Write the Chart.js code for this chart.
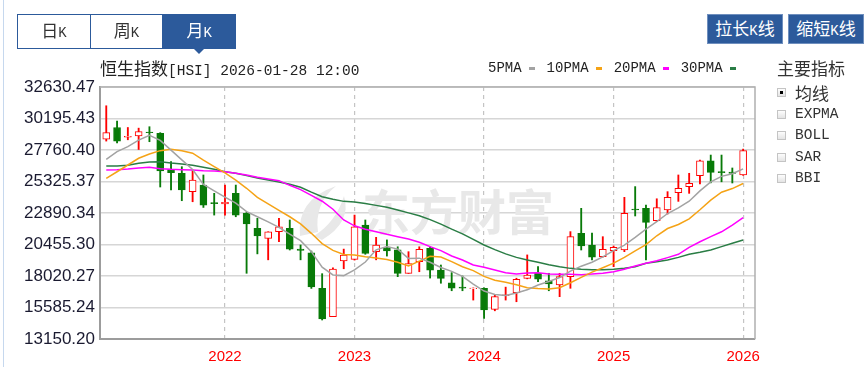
<!DOCTYPE html>
<html>
<head>
<meta charset="utf-8">
<script src="https://cdn.jsdelivr.net/npm/chart.js@4.4.1/dist/chart.umd.min.js"></script>
<style>
  html, body { margin: 0; padding: 0; background: #fff; }
  body { width: 865px; height: 367px; position: relative; overflow: hidden;
         font-family: "Liberation Mono", "Noto Sans CJK SC", monospace; color: #222; }
  #myChart { position: absolute; left: 0; top: 0; }
  .cn { font-family: "Noto Sans CJK SC", sans-serif; font-size: 17px; }
  .edge { position: absolute; left: 3px; top: 0; width: 1px; height: 367px; background: #c6d8ee; }
  .tabs { position: absolute; left: 17px; top: 14px; width: 219px; height: 35px; box-sizing: border-box;
          border: 1px solid #2c5a9b; display: flex; }
  .tab { flex: 1; display: flex; align-items: center; justify-content: center;
         border-right: 1px solid #2c5a9b; color: #333; }
  .tab:last-child { border-right: none; background: #2c5a9b; color: #fff; }
  .lbl { font-size: 14px; line-height: 20px; white-space: nowrap; }
  .tri { position: absolute; left: 193px; top: 48px; width: 0; height: 0;
         border-left: 6px solid transparent; border-right: 6px solid transparent; border-top: 6px solid #2c5a9b; }
  .btn { position: absolute; top: 14px; width: 76px; height: 30px; box-sizing: border-box;
         background: #2c5a9b; border: 1px solid #6f8fbe; color: #fff;
         display: flex; align-items: center; justify-content: center; }
  .title { position: absolute; left: 100px; top: 58px; height: 20px; font-size: 14.5px; line-height: 20px; white-space: nowrap; }
  .legend { position: absolute; left: 488px; top: 59px; height: 18px; font-size: 14px; line-height: 18px;
            display: flex; align-items: center; white-space: nowrap; }
  .legend .mk { display: inline-block; width: 6px; height: 3px; margin: 0 12px 0 7px; }
  .panel { position: absolute; left: 777px; top: 58px; }
  .panel .hd { position: absolute; left: 0; top: 0; white-space: nowrap; color: #333; line-height: 20px; }
  .row { position: absolute; left: 0; height: 20px; display: flex; align-items: center; white-space: nowrap;
         font-size: 14.5px; color: #333; }
  .box { width: 9px; height: 9px; box-sizing: border-box; border: 1px solid #c4c4c4;
         background: linear-gradient(#fdfdfd, #e4e4e4); margin-right: 9px; position: relative; }
  .box.on::after { content: ""; position: absolute; left: 2px; top: 2px; width: 3px; height: 3px; background: #000; }
</style>
</head>
<body>
<canvas id="myChart" width="865" height="367"></canvas>
<div class="edge"></div>
<div class="tabs">
  <div class="tab"><span class="lbl"><span class="cn">日</span>K</span></div>
  <div class="tab"><span class="lbl"><span class="cn">周</span>K</span></div>
  <div class="tab"><span class="lbl"><span class="cn">月</span>K</span></div>
</div>
<div class="tri"></div>
<div class="btn" style="left:707px"><span class="lbl"><span class="cn">拉长</span>K<span class="cn">线</span></span></div>
<div class="btn" style="left:788px"><span class="lbl"><span class="cn">缩短</span>K<span class="cn">线</span></span></div>
<div class="title"><span class="cn">恒生指数</span>[HSI] 2026-01-28 12:00</div>
<div class="legend" id="legend"></div>
<div class="panel">
  <div class="hd cn">主要指标</div>
  <div class="row" style="top:24px"><span class="box on"></span><span class="cn">均线</span></div>
  <div class="row" style="top:46px"><span class="box"></span>EXPMA</div>
  <div class="row" style="top:67px"><span class="box"></span>BOLL</div>
  <div class="row" style="top:89px"><span class="box"></span>SAR</div>
  <div class="row" style="top:110px"><span class="box"></span>BBI</div>
</div>
<script>
// monthly candles, Feb 2021 .. Jan 2026
var months = [
  '2021-02','2021-03','2021-04','2021-05','2021-06','2021-07','2021-08','2021-09','2021-10','2021-11','2021-12',
  '2022-01','2022-02','2022-03','2022-04','2022-05','2022-06','2022-07','2022-08','2022-09','2022-10','2022-11','2022-12',
  '2023-01','2023-02','2023-03','2023-04','2023-05','2023-06','2023-07','2023-08','2023-09','2023-10','2023-11','2023-12',
  '2024-01','2024-02','2024-03','2024-04','2024-05','2024-06','2024-07','2024-08','2024-09','2024-10','2024-11','2024-12',
  '2025-01','2025-02','2025-03','2025-04','2025-05','2025-06','2025-07','2025-08','2025-09','2025-10','2025-11','2025-12',
  '2026-01'
];
var open  = [28600,29500,28750,28850,29150,29050,26250,25960,24540,25050,23700,
             23600,24410,22870,21700,20930,21440,21700,20100,19820,17070,14870,19180,
             19300,21960,19900,20220,20040,18220,19130,20150,18480,17500,17160,17040,
             17070,15440,16500,16740,17840,18230,17650,17330,17970,21320,20420,19520,
             19980,20030,23200,23250,22290,23120,24460,24930,25770,26930,26100,26050,
             25830];
var high  = [31180,30000,29500,29450,29560,29100,26860,26470,26220,25830,24410,
             25050,25050,22950,22480,21440,22480,22350,20420,19950,18200,18650,20100,
             22730,22350,21010,20810,20280,19900,20280,20280,18870,18280,18020,17100,
             17100,16550,17160,17850,19650,18740,18230,18230,21450,23250,21330,21060,
             20340,24100,24930,23500,23990,24540,25830,25960,26980,27370,27370,26370,
             27830];
var low   = [28450,28300,28550,27800,28400,24900,24670,23840,23760,23320,22730,
             22730,22600,18230,19730,19270,20670,20030,19270,17060,14620,14870,18580,
             19250,19700,19270,19560,17970,18220,18350,17860,17460,16880,16880,16160,
             14750,15330,16160,16030,17800,17590,16880,16420,17070,20030,19260,19480,
             18740,19900,22660,19260,22220,22810,23790,24410,25130,25220,25300,25210,
             25800];
var close = [29100,28450,28820,29180,29100,26150,26000,24670,25440,23500,23620,
             23720,22730,22040,21110,21440,21830,20100,20000,17170,14700,18550,19640,
             21830,19770,20420,19950,18220,18990,20090,18480,17840,17070,17070,17080,
             15390,16420,16560,17770,18100,17770,17400,17970,21060,20340,19480,20090,
             20240,22870,23120,22170,23300,24100,24800,25190,26930,26030,26000,25950,
             27710];

// moving averages
var ma5  = [27040,27630,28020,28530,28900,28500,27750,27000,26250,25100,24600,
            24120,23650,23000,22600,22210,21780,21250,20750,19900,18700,18100,18050,
            18500,19100,20040,20300,20100,19380,19400,19080,18680,18380,17990,17400,
            16860,16590,16520,16710,16950,17320,17600,17900,18400,18780,19080,19500,
            19980,20400,21000,21650,22230,22850,23280,23800,24600,25300,25720,25930,
            26300];
var ma10 = [25570,26080,26600,27120,27450,27710,27810,27710,27510,26980,26480,
            25990,25430,24800,24100,23600,23100,22600,22050,21320,20520,20000,19680,
            19640,19510,19420,19300,19080,18800,19170,19550,19490,19130,18740,18440,
            17990,17690,17540,17350,17120,17060,17020,17110,17500,17920,18320,18660,
            19010,19460,19970,20450,21130,21690,22000,22440,23140,23890,24500,24780,
            25170];
var ma20 = [26220,26240,26290,26370,26420,26320,26270,26240,26220,26160,26140,
            26080,25960,25830,25650,25520,25390,25030,24700,24250,23800,23180,22350,
            21900,21630,21440,21240,21060,20880,20630,20290,19980,19570,19260,18870,
            18690,18480,18280,18170,18260,18280,18170,18150,18150,18120,18170,18230,
            18350,18540,18790,19000,19200,19440,19700,20240,20670,21060,21440,21960,
            22530];
var ma30 = [26520,26520,26580,26730,26830,26860,26760,26680,26580,26420,26270,
            26080,25960,25780,25600,25440,25290,25110,24880,24500,24150,23950,23790,
            23740,23620,23480,23330,23120,22900,22680,22380,22030,21640,21280,20850,
            20420,20060,19730,19460,19260,19080,18890,18740,18610,18540,18510,18510,
            18540,18620,18740,19000,19130,19260,19460,19700,19850,20030,20290,20550,
            20810];

var yTicks = [13150.20, 15585.24, 18020.27, 20455.30, 22890.34, 25325.37, 27760.40, 30195.43, 32630.47];

var maSeries = [
  { name: '5PMA',  values: ma5,  color: '#a3a3a3' },
  { name: '10PMA', values: ma10, color: '#f5a316' },
  { name: '20PMA', values: ma20, color: '#ff00ff' },
  { name: '30PMA', values: ma30, color: '#2a7d45' }
];

var RED = '#ff0000';
var GREEN = '#087a08';

document.addEventListener('DOMContentLoaded', function () {
    var legend = document.getElementById('legend');
    maSeries.forEach(function (s) {
        var t = document.createElement('span');
        t.textContent = s.name;
        var m = document.createElement('span');
        m.className = 'mk';
        m.style.background = s.color;
        legend.appendChild(t);
        legend.appendChild(m);
    });

    function isUp(i) { return close[i] >= open[i]; }

    var yearTicks = [];
    months.forEach(function (m, i) {
        if (m.slice(5) === '01') yearTicks.push(i);
    });

    var datasets = maSeries.map(function (s, k) {
        return {
            type: 'line',
            label: s.name,
            data: s.values.map(function (v, i) { return { x: i, y: v }; }),
            borderColor: s.color,
            borderWidth: 1.5,
            pointRadius: 0,
            tension: 0,
            order: k
        };
    });

    datasets.push({
        type: 'bar',
        label: 'body',
        data: months.map(function (m, i) { return { x: i, y: [open[i], close[i]] }; }),
        backgroundColor: function (c) { return c.dataIndex !== undefined && isUp(c.dataIndex) ? '#fff' : GREEN; },
        borderColor: function (c) { return c.dataIndex !== undefined && isUp(c.dataIndex) ? RED : GREEN; },
        borderWidth: 1,
        borderSkipped: false,
        barThickness: 7,
        grouped: false,
        order: 10
    });
    datasets.push({
        type: 'bar',
        label: 'wick',
        data: months.map(function (m, i) { return { x: i, y: [low[i], high[i]] }; }),
        backgroundColor: function (c) { return c.dataIndex !== undefined && isUp(c.dataIndex) ? RED : GREEN; },
        borderWidth: 0,
        barThickness: 1.2,
        grouped: false,
        order: 11
    });

    var watermark = {
        id: 'watermark',
        beforeDatasetsDraw: function (chart) {
            var c = chart.ctx;
            c.save();
            c.fillStyle = '#e8e8e8';
            c.font = 'bold 48px "Noto Sans CJK SC"';
            c.textBaseline = 'middle';
            c.fillText('东方财富', 362, 212);
            c.beginPath();
            c.moveTo(300, 236);
            c.quadraticCurveTo(296, 200, 336, 186);
            c.quadraticCurveTo(314, 204, 318, 232);
            c.closePath();
            c.fill();
            c.beginPath();
            c.moveTo(322, 240);
            c.quadraticCurveTo(352, 222, 344, 196);
            c.quadraticCurveTo(336, 222, 314, 236);
            c.closePath();
            c.fill();
            c.restore();
        }
    };

    var frame = {
        id: 'frame',
        afterDatasetsDraw: function (chart) {
            var a = chart.chartArea;
            var c = chart.ctx;
            c.save();
            c.strokeStyle = '#b0b0b0';
            c.lineWidth = 1.5;
            c.beginPath();
            c.moveTo(a.left, a.top);
            c.lineTo(a.right, a.top);
            c.lineTo(a.right, a.bottom);
            c.stroke();
            c.restore();
        }
    };

    var chartContext = document.getElementById('myChart').getContext('2d');
    new Chart(chartContext, {
        data: { datasets: datasets },
        plugins: [watermark, frame],
        options: {
            responsive: false,
            animation: false,
            layout: { padding: { left: 0, top: 87, right: 110, bottom: 0 } },
            plugins: {
                legend: { display: false },
                tooltip: { enabled: false }
            },
            scales: {
                x: {
                    type: 'linear',
                    offset: false,
                    min: -0.58,
                    max: 60.1,
                    afterBuildTicks: function (scale) {
                        scale.ticks = yearTicks.map(function (v) { return { value: v }; });
                    },
                    afterFit: function (scale) { scale.height = 28; },
                    ticks: {
                        autoSkip: false,
                        maxRotation: 0,
                        padding: 9,
                        color: '#ff0000',
                        font: { family: 'Liberation Sans', size: 15 },
                        callback: function (v) {
                            var m = months[Math.round(v)];
                            return m ? m.slice(0, 4) : '';
                        }
                    },
                    grid: { color: '#c4c4c4', lineWidth: 1.2, drawTicks: false, offset: false },
                    border: { display: true, color: '#9c9c9c', width: 2, dash: [4, 4] }
                },
                y: {
                    type: 'linear',
                    min: yTicks[0],
                    max: yTicks[yTicks.length - 1],
                    afterBuildTicks: function (scale) {
                        scale.ticks = yTicks.map(function (v) { return { value: v }; });
                    },
                    afterFit: function (scale) { scale.width = 100; },
                    ticks: {
                        padding: 5,
                        color: '#1a1a30',
                        font: { family: 'Liberation Sans', size: 17 },
                        callback: function (v) { return v.toFixed(2); }
                    },
                    grid: { color: '#d6d6d6', lineWidth: 1.5, drawTicks: false },
                    border: { display: true, color: '#9c9c9c', width: 2 }
                }
            }
        }
    });
});
</script>
</body>
</html>
